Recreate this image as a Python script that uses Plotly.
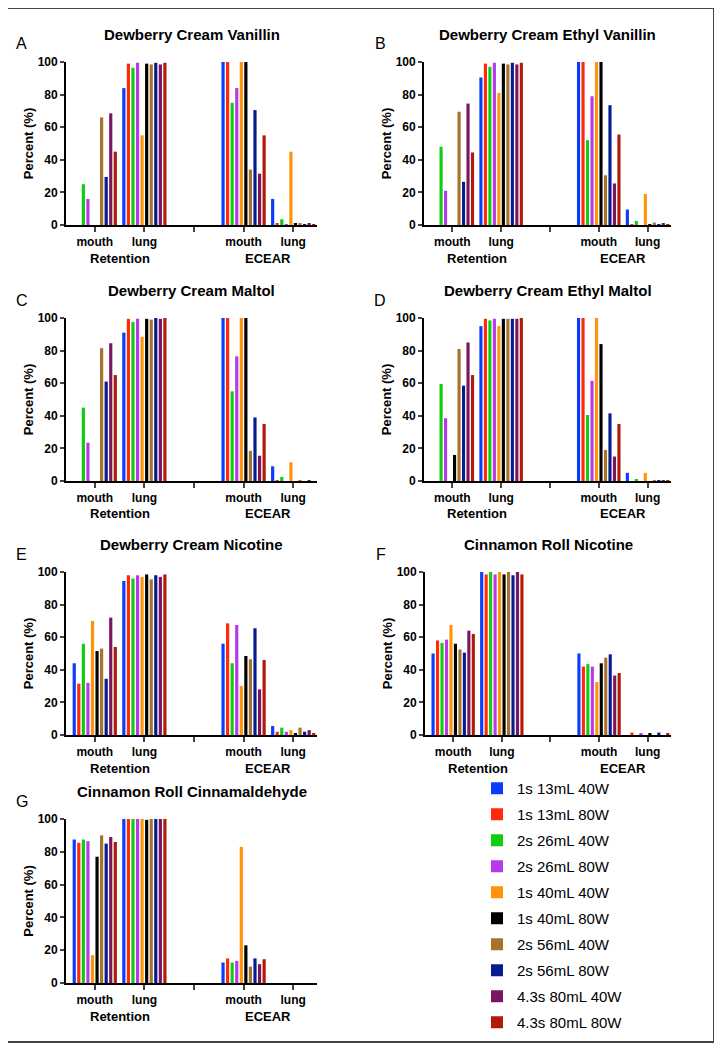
import plotly.graph_objects as go

W, H = 722, 1050
PAGE_OFFSET = 8  # the page body adds an 8px margin around the figure
FONT = "Liberation Sans, Arial, sans-serif"

SERIES = [
    "1s 13mL 40W", "1s 13mL 80W", "2s 26mL 40W", "2s 26mL 80W", "1s 40mL 40W",
    "1s 40mL 80W", "2s 56mL 40W", "2s 56mL 80W", "4.3s 80mL 40W", "4.3s 80mL 80W",
]
COLORS = [
    "#0a3cff", "#ff2a0a", "#12cc12", "#b63ae8", "#ff9408",
    "#000000", "#a5732c", "#061c8e", "#7a1562", "#b01a08",
]
GROUPS = ["Retention", "ECEAR"]
SITES = ["mouth", "lung"]

# rows: Retention mouth, Retention lung, ECEAR mouth, ECEAR lung (columns follow SERIES)
DC_VANILLIN = [
    [0, 0, 25, 16, 0, 0, 66, 29.5, 68.5, 45],
    [84, 99, 96.5, 99.5, 55, 99, 98.5, 99.5, 98.5, 99.5],
    [100, 100, 75, 84, 100, 100, 34, 70.5, 31.5, 55],
    [16, 1, 3.5, 0.5, 45, 1, 1, 0.5, 1, 0.3],
]
DC_ETHYL_VANILLIN = [
    [0, 0, 48, 21, 0, 0, 69.5, 26.5, 74.5, 44.5],
    [90.5, 99, 97, 99.5, 81, 99, 98.5, 99.5, 98.5, 99.5],
    [100, 100, 52, 79, 100, 100, 30.5, 73.5, 25.5, 55.5],
    [9.5, 0.5, 2.5, 0, 19, 0.5, 1.5, 0.5, 1, 0.3],
]
DC_MALTOL = [
    [0, 0, 45, 23.5, 0, 0, 81.5, 61, 84.5, 65],
    [91, 99.5, 97.5, 99.5, 88.5, 99.5, 99, 100, 99.5, 100],
    [100, 100, 55, 76.5, 100, 100, 18.5, 39, 15.5, 35],
    [9, 0.5, 2.5, 0, 11.5, 0, 0.5, 0, 0.5, 0],
]
DC_ETHYL_MALTOL = [
    [0, 0, 59.5, 38.5, 0, 16, 81, 58.5, 85, 65],
    [95, 99.5, 98.5, 99.5, 95, 99.5, 99.5, 99.5, 99.5, 100],
    [100, 100, 40.5, 61.5, 100, 84, 19, 41.5, 15, 35],
    [5, 0, 1, 0, 5, 0, 0.5, 0.3, 0.3, 0.3],
]
DC_NICOTINE = [
    [44, 31.5, 56, 32, 70, 51.5, 53, 34.5, 72, 54],
    [94.5, 98, 96, 98, 97, 98.5, 95.5, 98, 97, 98.5],
    [56, 68.5, 44, 67.5, 30, 48.5, 46.5, 65.5, 28, 46],
    [5.5, 2, 4.5, 2, 3, 1, 4.5, 2, 3, 1],
]
CR_NICOTINE = [
    [50, 58, 56.5, 58.5, 67.5, 56, 52.5, 50.5, 64, 62],
    [100, 98.5, 100, 98.5, 100, 98.5, 100, 98, 100, 98.5],
    [50, 42, 43.5, 42, 32.5, 44, 47.5, 49.5, 36.5, 38],
    [0, 1.5, 0, 1, 0, 1, 0, 1.5, 0, 1],
]
CR_CINNAMALDEHYDE = [
    [87.5, 85.5, 87.5, 86.5, 17, 77, 90, 85, 89, 86],
    [100, 100, 100, 100, 100, 99.5, 100, 100, 100, 100],
    [12.5, 15, 12.5, 13.5, 83, 23, 10, 15, 11.5, 14.5],
    [0, 0, 0, 0, 0, 0, 0, 0, 0, 0],
]

PANELS = [
    ("A", "Dewberry Cream Vanillin", DC_VANILLIN),
    ("B", "Dewberry Cream Ethyl Vanillin", DC_ETHYL_VANILLIN),
    ("C", "Dewberry Cream Maltol", DC_MALTOL),
    ("D", "Dewberry Cream Ethyl Maltol", DC_ETHYL_MALTOL),
    ("E", "Dewberry Cream Nicotine", DC_NICOTINE),
    ("F", "Cinnamon Roll Nicotine", CR_NICOTINE),
    ("G", "Cinnamon Roll Cinnamaldehyde", CR_CINNAMALDEHYDE),
]

# plot areas in screen pixels: left, right, top, bottom
BOXES = [
    (66, 317, 62, 225), (424, 671, 62, 225),
    (66, 317, 318, 481), (424, 671, 318, 481),
    (66, 317, 572, 735), (425, 671, 572, 735),
    (66, 317, 819, 983),
]


def px(x):
    return (x - PAGE_OFFSET) / W


def py(y):
    return 1 - (y - PAGE_OFFSET) / H


# category slots: two sites per group, one empty slot between groups
xpos = [g * (len(SITES) + 1) + s for g in range(len(GROUPS)) for s in range(len(SITES))]
tickvals = list(range(len(GROUPS) * (len(SITES) + 1) - 1))
ticktext = []
for g in range(len(GROUPS)):
    ticktext += SITES + ([""] if g < len(GROUPS) - 1 else [])

fig = go.Figure()
annotations = []
layout_axes = {}

for k, (letter, title, rows) in enumerate(PANELS):
    n = "" if k == 0 else str(k + 1)
    for s, name in enumerate(SERIES):
        fig.add_trace(go.Bar(
            x=xpos,
            y=[row[s] for row in rows],
            name=name,
            marker=dict(color=COLORS[s], line=dict(width=0)),
            xaxis="x" + n,
            yaxis="y" + n,
            showlegend=(k == 0),
            legendgroup=name,
        ))

    x0, x1, y0, y1 = BOXES[k]
    layout_axes["xaxis" + n] = dict(
        domain=[px(x0), px(x1)], anchor="y" + n, range=[-0.58, 4.48],
        tickvals=tickvals, ticktext=ticktext, ticks="outside", ticklen=5, tickwidth=1.6,
        showline=True, linewidth=1.8, linecolor="black", showgrid=False, zeroline=False,
        tickfont=dict(family=FONT, size=12, color="black", weight="bold"),
    )
    layout_axes["yaxis" + n] = dict(
        domain=[py(y1), py(y0)], anchor="x" + n, range=[0, 100], dtick=20,
        ticks="outside", ticklen=4, tickwidth=1.6, showline=True, linewidth=1.8,
        linecolor="black", showgrid=False, zeroline=False,
        tickfont=dict(family=FONT, size=12, color="black", weight="bold"),
        title=dict(text="Percent (%)", standoff=1,
                   font=dict(family=FONT, size=13, color="black", weight="bold")),
    )
    annotations.append(dict(
        text=title, x=px((x0 + x1) / 2), y=py(y0 - 28), xref="paper", yref="paper",
        xanchor="center", yanchor="middle", showarrow=False,
        font=dict(family=FONT, size=15, color="black", weight="bold"),
    ))
    annotations.append(dict(
        text=letter, x=px(x0 - 44), y=py(y0 - 18), xref="paper", yref="paper",
        xanchor="center", yanchor="middle", showarrow=False,
        font=dict(family=FONT, size=16, color="black"),
    ))
    for g, group in enumerate(GROUPS):
        annotations.append(dict(
            text=group, x=g * (len(SITES) + 1) + (len(SITES) - 1) / 2, y=py(y1 + 33),
            xref="x" + n, yref="paper", xanchor="center", yanchor="middle", showarrow=False,
            font=dict(family=FONT, size=13, color="black", weight="bold"),
        ))

fig.update_layout(
    width=W, height=H,
    margin=dict(l=0, r=0, t=0, b=0, autoexpand=False),
    paper_bgcolor="white", plot_bgcolor="white",
    barmode="group", bargap=0.08, bargroupgap=0.3,
    legend=dict(
        x=px(477), xanchor="left", y=py(772), yanchor="top",
        font=dict(family=FONT, size=15, color="black"),
        tracegroupgap=3.5, bgcolor="rgba(0,0,0,0)",
    ),
    annotations=annotations,
    shapes=[dict(type="rect", xref="paper", yref="paper",
                 x0=px(6), x1=px(714), y0=py(1042), y1=py(8),
                 line=dict(color="#444444", width=2))],
    **layout_axes,
)

fig.write_html("out.html")
